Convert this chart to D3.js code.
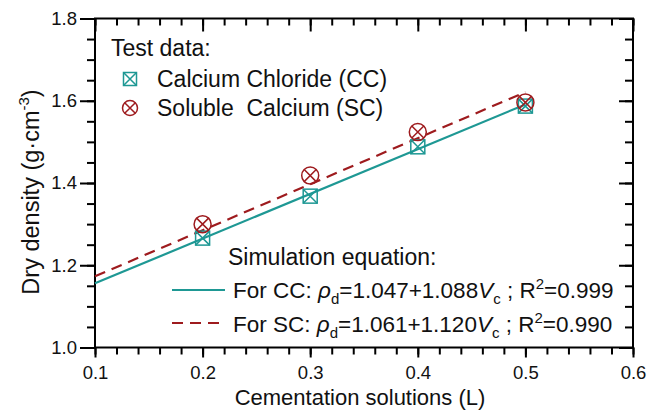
<!DOCTYPE html>
<html>
<head>
<meta charset="utf-8">
<script src="https://cdn.jsdelivr.net/npm/d3@7"></script>
<style>
  body { margin: 0; background: #fff; }
  text { font-family: Arial, "Liberation Sans", sans-serif; fill: #111; }
</style>
</head>
<body>
<div id="chart"></div>
<script>
// Data
const volumes = [0.2, 0.3, 0.4, 0.5];
const ccDensity = [1.266, 1.368, 1.488, 1.587];
const scDensity = [1.300, 1.418, 1.524, 1.596];
// fitted lines (end points)
const fitVolumes = [0.1, 0.5];
const ccFit = [1.156, 1.591];
const scFit = [1.173, 1.621];

const xTicks = [0.1, 0.2, 0.3, 0.4, 0.5, 0.6];
const yTicks = [1.0, 1.2, 1.4, 1.6, 1.8];

let width = 661;
let height = 415;
let teal = '#1e9894';
let red = '#9e1b1e';

let svg = d3.select('#chart')
	.append('svg')
	.attr('width', width)
	.attr('height', height);

let mLeft = 95, mRight = 633, mTop = 18.5, mBottom = 347.5;

let x = d3.scaleLinear().domain([0.1, 0.6]).range([mLeft, mRight]);
let y = d3.scaleLinear().domain([1.0, 1.8]).range([mBottom, mTop]);

let minorX = d3.range(0.1, 0.6001, 0.02).map(d => +d.toFixed(2));
let minorY = d3.range(1.0, 1.8001, 0.05).map(d => +d.toFixed(2));

function styleAxis(g) {
	g.select('.domain').remove();
	g.selectAll('line').attr('stroke', '#000').attr('stroke-width', 2);
	g.selectAll('text').attr('font-size', 18.5).attr('fill', '#111');
}

// minor ticks
svg.append('g').attr('transform', `translate(0,${mBottom})`)
	.call(d3.axisBottom(x).tickValues(minorX).tickSize(7).tickFormat('')).call(styleAxis);
svg.append('g').attr('transform', `translate(0,${mTop})`)
	.call(d3.axisBottom(x).tickValues(minorX).tickSize(7).tickFormat('')).call(styleAxis);
svg.append('g').attr('transform', `translate(${mLeft},0)`)
	.call(d3.axisLeft(y).tickValues(minorY).tickSize(8).tickFormat('')).call(styleAxis);
svg.append('g').attr('transform', `translate(${mRight},0)`)
	.call(d3.axisLeft(y).tickValues(minorY).tickSize(8).tickFormat('')).call(styleAxis);

// major ticks
svg.append('g').attr('transform', `translate(0,${mBottom})`)
	.call(d3.axisBottom(x).tickValues(xTicks).tickSize(10).tickPadding(8.5).tickFormat(d3.format('.1f'))).call(styleAxis);
svg.append('g').attr('transform', `translate(0,${mTop})`)
	.call(d3.axisBottom(x).tickValues(xTicks).tickSize(13).tickFormat('')).call(styleAxis);
svg.append('g').attr('transform', `translate(${mLeft},0)`)
	.call(d3.axisLeft(y).tickValues(yTicks).tickSize(15).tickPadding(3).tickFormat(d3.format('.1f'))).call(styleAxis);
svg.append('g').attr('transform', `translate(${mRight},0)`)
	.call(d3.axisLeft(y).tickValues(yTicks).tickSize(14).tickFormat('')).call(styleAxis);

// frame
svg.append('rect')
	.attr('x', mLeft).attr('y', mTop)
	.attr('width', mRight - mLeft).attr('height', mBottom - mTop)
	.attr('fill', 'none').attr('stroke', '#000').attr('stroke-width', 2);

// axis titles
svg.append('text')
	.attr('x', 360).attr('y', 405)
	.attr('text-anchor', 'middle').attr('font-size', 22)
	.text('Cementation solutions (L)');

let yl = svg.append('text')
	.attr('transform', `translate(39,192) rotate(-90)`)
	.attr('text-anchor', 'middle').attr('font-size', 23.5);
yl.append('tspan').text('Dry density (g·cm');
yl.append('tspan').attr('font-size', 15).attr('dy', -10).text('-3');
yl.append('tspan').attr('dy', 10).text(')');

// fitted lines
let line = d3.line().x(d => x(d[0])).y(d => y(d[1]));
svg.append('path')
	.datum(fitVolumes.map((v, i) => [v, ccFit[i]]))
	.attr('d', line).attr('fill', 'none').attr('stroke', teal).attr('stroke-width', 2.2);
svg.append('path')
	.datum(fitVolumes.map((v, i) => [v, scFit[i]]))
	.attr('d', line).attr('fill', 'none').attr('stroke', red).attr('stroke-width', 2.2)
	.attr('stroke-dasharray', '11,7');

// markers
function squareX(g, cx, cy, s) {
	let h = s / 2;
	g.append('rect').attr('x', cx - h).attr('y', cy - h).attr('width', s).attr('height', s)
		.attr('fill', 'none').attr('stroke', teal).attr('stroke-width', 1.5);
	g.append('path').attr('d', `M${cx - h},${cy - h}L${cx + h},${cy + h}M${cx + h},${cy - h}L${cx - h},${cy + h}`)
		.attr('stroke', teal).attr('stroke-width', 1.5);
}
function circleX(g, cx, cy, r) {
	let k = r * Math.SQRT1_2;
	g.append('circle').attr('cx', cx).attr('cy', cy).attr('r', r)
		.attr('fill', 'none').attr('stroke', red).attr('stroke-width', 1.5);
	g.append('path').attr('d', `M${cx - k},${cy - k}L${cx + k},${cy + k}M${cx + k},${cy - k}L${cx - k},${cy + k}`)
		.attr('stroke', red).attr('stroke-width', 1.5);
}

let pts = svg.append('g');
volumes.forEach((v, i) => {
	squareX(pts, x(v), y(ccDensity[i]), 14);
	circleX(pts, x(v), y(scDensity[i]), 8.5);
});

// legend: test data
svg.append('text').attr('x', 111).attr('y', 56).attr('font-size', 23).text('Test data:');
squareX(svg, 130, 79, 13);
svg.append('text').attr('x', 157).attr('y', 87).attr('font-size', 23).text('Calcium Chloride (CC)');
circleX(svg, 130, 108, 7.5);
svg.append('text').attr('x', 157).attr('y', 116).attr('font-size', 23)
	.style('white-space', 'pre').text('Soluble  Calcium (SC)');

// legend: simulation equation
svg.append('text').attr('x', 228).attr('y', 265).attr('font-size', 23).text('Simulation equation:');

function equation(yy, label, a, b, r2) {
	let t = svg.append('text').attr('x', 233).attr('y', yy).attr('font-size', 22.5)
		.style('white-space', 'pre');
	t.append('tspan').text('For ' + label + ': ');
	t.append('tspan').attr('font-style', 'italic').text('ρ');
	t.append('tspan').attr('font-size', 15).attr('dy', 6).text('d');
	t.append('tspan').attr('dy', -6).text('=' + a + '+' + b);
	t.append('tspan').attr('font-style', 'italic').text('V');
	t.append('tspan').attr('font-size', 15).attr('dy', 6).text('c');
	t.append('tspan').attr('dy', -6).text(' ; R');
	t.append('tspan').attr('font-size', 15).attr('dy', -9).text('2');
	t.append('tspan').attr('dy', 9).text('=' + r2);
}
svg.append('line').attr('x1', 172).attr('x2', 225).attr('y1', 290).attr('y2', 290)
	.attr('stroke', teal).attr('stroke-width', 2.2);
equation(298, 'CC', '1.047', '1.088', '0.999');
svg.append('line').attr('x1', 172).attr('x2', 225).attr('y1', 323).attr('y2', 323)
	.attr('stroke', red).attr('stroke-width', 2.2).attr('stroke-dasharray', '11,7');
equation(332, 'SC', '1.061', '1.120', '0.990');
</script>
</body>
</html>
